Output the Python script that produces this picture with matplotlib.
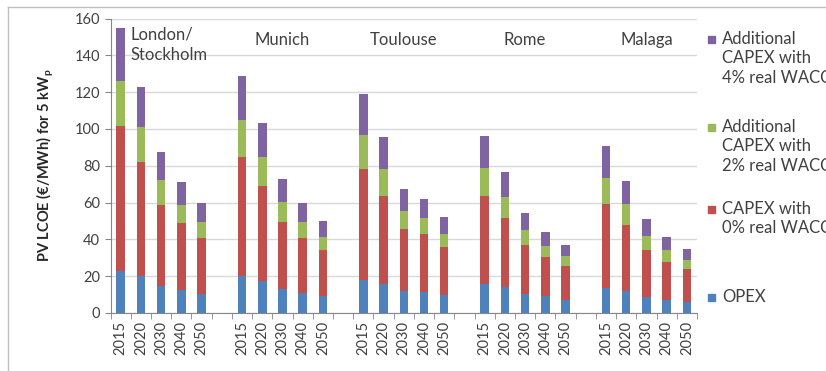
import numpy as np
import matplotlib
matplotlib.use("Agg")
import matplotlib.pyplot as plt
from matplotlib.patches import Rectangle
from matplotlib.lines import Line2D

plt.rcParams["font.family"] = ["Lato", "DejaVu Sans"]
plt.rcParams["mathtext.default"] = "regular"

cities = ["London/\nStockholm", "Munich", "Toulouse", "Rome", "Malaga"]
years = ["2015", "2020", "2030", "2040", "2050"]

# segment values (EUR/MWh), cities in order, 5 years each
opex = [23.0, 20.3, 14.9, 12.7, 10.5,
        20.3, 17.6, 13.0, 10.7, 9.4,
        18.1, 15.9, 11.8, 11.2, 9.8,
        15.9, 14.1, 10.3, 9.0, 7.2,
        13.8, 12.0, 8.5, 7.1, 6.0]
capex_0 = [78.4, 61.7, 43.8, 36.0, 30.3,
           64.7, 51.2, 36.6, 30.1, 25.0,
           60.2, 47.9, 33.9, 31.7, 26.1,
           47.9, 37.3, 26.7, 21.6, 18.5,
           45.2, 35.8, 25.7, 20.8, 18.1]
add_2 = [24.6, 19.0, 13.3, 10.2, 8.5,
         20.0, 16.2, 10.7, 8.8, 6.7,
         18.6, 14.5, 9.9, 8.5, 7.0,
         14.8, 11.6, 7.9, 6.0, 5.1,
         14.6, 11.2, 7.6, 6.3, 4.7]
add_4 = [29.0, 22.0, 15.3, 12.5, 10.5,
         24.0, 18.0, 12.7, 10.2, 8.9,
         22.3, 17.2, 11.8, 10.7, 9.3,
         17.8, 13.6, 9.3, 7.6, 6.2,
         17.2, 12.9, 9.5, 7.3, 6.2]

labels = ["OPEX", "CAPEX with\n0% real WACC",
          "Additional\nCAPEX with\n2% real WACC",
          "Additional\nCAPEX with\n4% real WACC"]
colors = ["#4F81BD", "#C0504D", "#9BBB59", "#8064A2"]
series = [opex, capex_0, add_2, add_4]

text_col = "#404040"
W, H = 826, 371

fig = plt.figure(figsize=(W / 100, H / 100), dpi=100)
ax = fig.add_axes([110.6 / W, 1 - 313 / H, 586.4 / W, 294.5 / H])

x = [c * 6 + j for c in range(len(cities)) for j in range(len(years))]
bottom = np.zeros(len(x))
for vals, lab, col in zip(series, labels, colors):
    ax.bar(x, vals, width=0.42, bottom=bottom, color=col, label=lab)
    bottom += np.array(vals)

ax.set_xlim(-0.5, 28.5)
ax.set_ylim(0, 160)
ax.set_yticks(range(0, 161, 20))
ax.yaxis.grid(True, color="#d9d9d9", lw=1)
ax.set_axisbelow(True)
ax.set_xticks(x)
ax.set_xticklabels(years * len(cities), rotation=90)
ax.set_xticks(np.arange(-0.5, 29, 1), minor=True)
ax.tick_params(axis="x", which="major", length=0, pad=6, labelsize=10.5, labelcolor=text_col)
ax.tick_params(axis="x", which="minor", length=4, color="#868686")
ax.tick_params(axis="y", length=4, color="#868686", labelsize=10.5, labelcolor=text_col)
for s in ["top", "right"]:
    ax.spines[s].set_visible(False)
for s in ["left", "bottom"]:
    ax.spines[s].set_color("#868686")

# city labels
ax.text(0.5, 155.5, cities[0], ha="left", va="top", fontsize=12, color=text_col, linespacing=1.3)
for c in range(1, len(cities)):
    ax.text(c * 6 + 2, 148.5, cities[c], ha="center", va="center", fontsize=12, color=text_col)

fig.text(45 / W, 1 - 165 / H, "PV LCOE (€/MWh) for 5 kW$_p$", rotation=90,
         ha="center", va="center", fontsize=10.5, fontweight="bold", color="#262626")

# legend, drawn by hand (Excel style)
leg_y = [39, 127, 209, 297]
for lab, col, y in zip(labels[::-1], colors[::-1], leg_y):
    fig.patches.append(Rectangle((707.5 / W, 1 - (y + 3.5) / H), 7 / W, 7 / H,
                                 transform=fig.transFigure, color=col))
    fig.text(722 / W, 1 - (y - 8.5) / H, lab, ha="left", va="top", fontsize=12,
             color=text_col, linespacing=1.3)

# chart border
fig.add_artist(Line2D([8 / W, 8 / W], [0, 1 - 7 / H], transform=fig.transFigure, color="#bfbfbf", lw=1))
fig.add_artist(Line2D([8 / W, 1], [1 - 7 / H, 1 - 7 / H], transform=fig.transFigure, color="#bfbfbf", lw=1))

fig.savefig("out.png", dpi=100)
